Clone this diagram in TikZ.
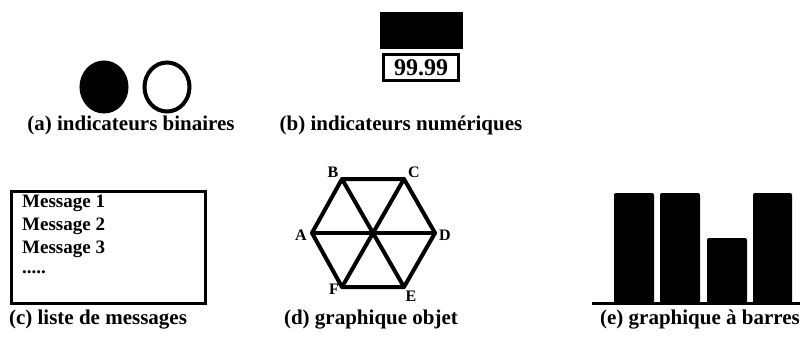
\documentclass[tikz,border=0pt]{standalone}
\usepackage{fontspec}
\setmainfont{Liberation Serif}
\usetikzlibrary{positioning,shapes.geometric}

\begin{document}
\begin{tikzpicture}[x=1pt, y=-1pt,
    legende/.style={font=\fontsize{21}{24}\selectfont\bfseries, inner sep=0pt},
    lamp/.style={ellipse, draw, line width=4pt, minimum width=45pt, minimum height=49pt, inner sep=0pt},
    msg/.style={font=\fontsize{19}{21}\selectfont\bfseries, anchor=west, inner sep=0pt},
    vlab/.style={font=\fontsize{16}{18}\selectfont\bfseries, inner sep=0pt},
    trait/.style={line width=4pt, line cap=round, line join=round},
    barre/.style={fill=black, rounded corners=2pt}
]
\useasboundingbox (0,0) rectangle (809,337);

% (a) indicateurs binaires
\node[lamp, fill=black] (on) at (104,87) {};
\node[lamp] (off) at (167,87) {};
\node[legende] (capa) at (131,125) {(a) indicateurs binaires};

% (b) indicateurs numeriques
\node[draw, fill=black, minimum width=82pt, minimum height=36pt] (ecran) at (421,30) {};
\node[draw, line width=3pt, minimum width=75pt, minimum height=26pt, inner sep=0pt,
      font=\fontsize{24}{26}\selectfont\bfseries] (valeur) at (421,67.5) {99.99};
\node[legende] (capb) at (401,125) {(b) indicateurs numériques};

% (c) liste de messages
\node[draw, line width=3pt, minimum width=194pt, minimum height=112pt] (liste) at (108.5,247.5) {};
\node[msg] (m1) at (22,203) {Message 1};
\node[msg] (m2) at (22,226) {Message 2};
\node[msg] (m3) at (22,249) {Message 3};
\node[msg] (m4) at (22,272) {.....};
\node[legende] (capc) at (98,320) {(c) liste de messages};

% (d) graphique objet
\coordinate (A) at (312,233);
\coordinate (B) at (342,179);
\coordinate (C) at (404,179);
\coordinate (D) at (435,233);
\coordinate (E) at (404,287);
\coordinate (F) at (342,287);
\draw[trait] (A) -- (B) -- (C) -- (D) -- (E) -- (F) -- cycle;
\draw[trait] (A) -- (D);
\draw[trait] (B) -- (E);
\draw[trait] (C) -- (F);
\node[vlab] (la) at (301,235) {A};
\node[vlab] (lb) at (333,172) {B};
\node[vlab] (lc) at (414,172) {C};
\node[vlab] (ld) at (445,235) {D};
\node[vlab] (le) at (411,296) {E};
\node[vlab] (lf) at (334,289) {F};
\node[legende] (capd) at (371,320) {(d) graphique objet};

% (e) graphique a barres
\draw[line width=3pt] (592,303) -- (800,303);
\fill[barre] (614,303) rectangle (654,193);
\fill[barre] (660,303) rectangle (700,193);
\fill[barre] (707,303) rectangle (747,238);
\fill[barre] (753,303) rectangle (792,193);
\node[legende] (cape) at (700,320) {(e) graphique à barres};
\end{tikzpicture}
\end{document}
